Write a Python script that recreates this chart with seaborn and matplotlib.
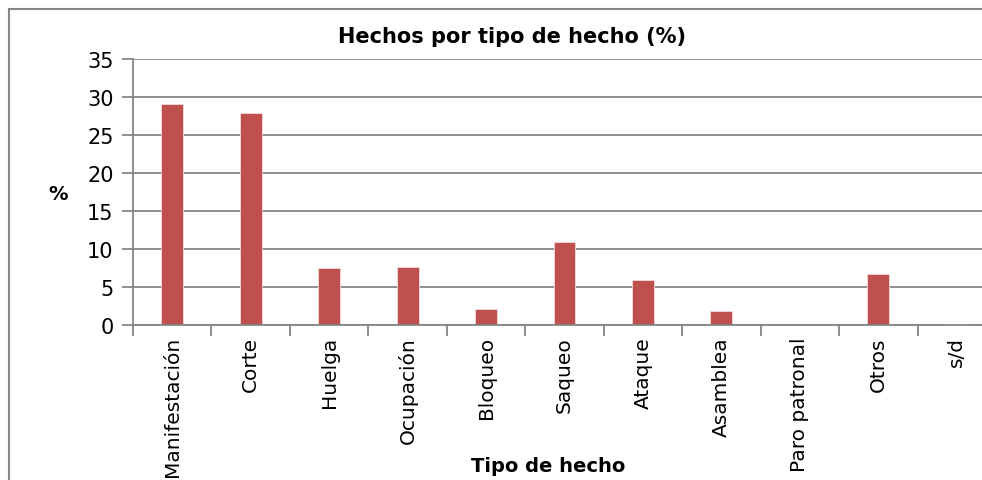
import matplotlib
matplotlib.use("Agg")
import numpy as np
import pandas as pd
import seaborn as sns
import matplotlib.pyplot as plt
from matplotlib.patches import Rectangle

# Data
categorias = ["Manifestación", "Corte", "Huelga", "Ocupación", "Bloqueo", "Saqueo",
              "Ataque", "Asamblea", "Paro patronal", "Otros", "s/d"]
porcentajes = [29.1, 27.9, 7.5, 7.6, 2.1, 10.9, 5.9, 1.9, 0.0, 6.7, 0.15]

df = pd.DataFrame({"Tipo": categorias, "Pct": porcentajes})

sns.set_style("white")
plt.rcParams["font.family"] = ["DejaVu Sans"]
plt.rcParams["text.color"] = "black"
plt.rcParams["xtick.color"] = "black"
plt.rcParams["ytick.color"] = "black"

gris = "#868686"
fig = plt.figure(figsize=(9.82, 4.81), dpi=100)
ax = fig.add_axes([133 / 982, 1 - 326 / 481, 863 / 982, 266 / 481])

sns.barplot(data=df, x="Tipo", y="Pct", color="#C0504D", width=0.28,
            saturation=1, edgecolor="#F2DCDB", linewidth=0.6, ax=ax)

ax.set_xlim(-0.5, len(categorias) - 0.5)
ax.set_ylim(0, 35)
ax.set_yticks(np.arange(0, 36, 5))
ax.yaxis.grid(True, color=gris, linewidth=1.3)
ax.set_axisbelow(True)

for s in ["top", "right"]:
    ax.spines[s].set_visible(False)
for s in ["left", "bottom"]:
    ax.spines[s].set_color(gris)
    ax.spines[s].set_linewidth(1.3)

ax.tick_params(axis="y", which="major", direction="out", length=8, width=1.3,
               color=gris, labelcolor="black", labelsize=15, pad=6, left=True)
ax.set_xticks(np.arange(len(categorias)))
ax.set_xticklabels(categorias, rotation=90, fontsize=14.5, color="black")
ax.tick_params(axis="x", which="major", length=0, pad=8)
ax.set_xticks(np.arange(-0.5, len(categorias)), minor=True)
ax.tick_params(axis="x", which="minor", direction="out", length=8, width=1.3,
               color=gris, bottom=True)

ax.set_xlabel("")
ax.set_ylabel("")
fig.text(548 / 982, 1 - 467 / 481, "Tipo de hecho", ha="center", va="center",
         fontsize=14, fontweight="bold")
fig.text(58 / 982, 1 - 195 / 481, "%", ha="center", va="center",
         fontsize=14, fontweight="bold")
fig.text(512 / 982, 1 - 37 / 481, "Hechos por tipo de hecho (%)", ha="center",
         va="center", fontsize=15, fontweight="bold")

# chart area frame (cropped at right and bottom in the reference)
fig.patches.append(Rectangle((9 / 982, -0.1), 1.1, 1 - 10 / 481 + 0.1,
                             transform=fig.transFigure, fill=False,
                             edgecolor=gris, linewidth=1.5, clip_on=False))

fig.savefig("out.png", dpi=100)
